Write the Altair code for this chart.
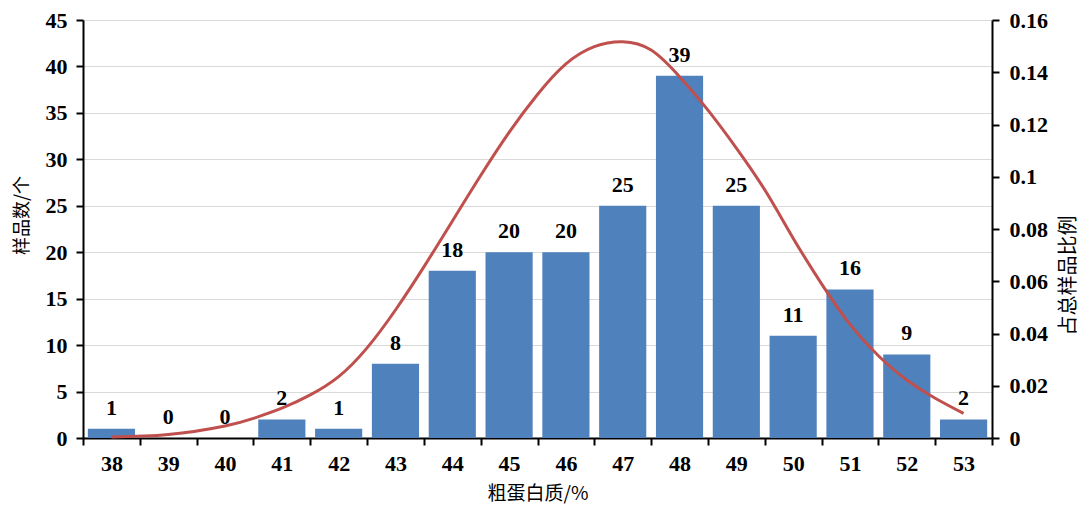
import altair as alt
import pandas as pd

categories = ["38", "39", "40", "41", "42", "43", "44", "45",
              "46", "47", "48", "49", "50", "51", "52", "53"]
counts = [1, 0, 0, 2, 1, 8, 18, 20, 20, 25, 39, 25, 11, 16, 9, 2]

curve_x = [38, 39, 40, 40.5, 41, 41.5, 42, 42.5, 43, 43.5, 44, 44.5, 45, 45.5,
           46, 46.5, 47, 47.5, 48, 48.5, 49, 49.5, 50, 50.5, 51, 51.5,
           52, 52.5, 53]
curve_p = [0.0004, 0.0013, 0.0046, 0.0075, 0.0114, 0.0165, 0.0235, 0.0345,
           0.0490, 0.0655, 0.0830, 0.1005, 0.117, 0.1315, 0.1432, 0.1498,
           0.1517, 0.1485, 0.1383, 0.1255, 0.111, 0.095, 0.0765,
           0.059, 0.0435, 0.0315, 0.0222, 0.0152, 0.0094]

left_ticks = [0, 5, 10, 15, 20, 25, 30, 35, 40, 45]
right_ticks = [0, 0.02, 0.04, 0.06, 0.08, 0.1, 0.12, 0.14, 0.16]

bars_df = pd.DataFrame({"cat": categories, "n": counts})
curve_df = pd.DataFrame({"x": curve_x, "p": curve_p})

SERIF = "Liberation Serif"
CJK = "Noto Sans CJK SC"

axis_common = dict(
    labelFont=SERIF, labelFontWeight="bold", labelFontSize=22, labelColor="black",
    domainColor="black", domainWidth=2, tickColor="black", tickWidth=2, tickSize=7,
    titleFont=CJK, titleFontWeight="normal", titleColor="black",
)

x_enc = alt.X(
    "cat:N", sort=categories,
    scale=alt.Scale(paddingInner=0, paddingOuter=0),
    axis=alt.Axis(title="粗蛋白质/%", labelAngle=0, tickBand="extent", grid=False,
                  labelPadding=8, titleFontSize=19, titleY=55, titleBaseline="middle",
                  **axis_common),
)
y_enc = alt.Y(
    "n:Q", scale=alt.Scale(domain=[0, 45], nice=False),
    axis=alt.Axis(title="样品数/个", values=left_ticks, grid=True, gridColor="#D9D9D9",
                  gridWidth=1, labelPadding=9, titleFontSize=18, titleAngle=270,
                  titleX=-61, titleY=195, titleAlign="center", titleBaseline="middle",
                  **axis_common),
)

bars = alt.Chart(bars_df).mark_bar(color="#4F81BD", width=alt.RelativeBandSize(0.83)).encode(
    x=x_enc, y=y_enc
)
labels = alt.Chart(bars_df).mark_text(
    font=SERIF, fontWeight="bold", fontSize=22, color="black",
    baseline="alphabetic", dy=-14,
).encode(x=x_enc, y=y_enc, text="n:Q")

line = alt.Chart(curve_df).mark_line(
    color="#C0504D", strokeWidth=3, interpolate="natural"
).encode(
    x=alt.X("x:Q", scale=alt.Scale(domain=[37.5, 53.5], nice=False, zero=False), axis=None),
    y=alt.Y("p:Q", scale=alt.Scale(domain=[0, 0.16], nice=False),
            axis=alt.Axis(orient="right", title="占总样品比例", values=right_ticks,
                          format="~g", grid=False, labelPadding=10, titleFontSize=20,
                          titleAngle=270, titleX=76, titleY=255, titleAlign="center",
                          titleBaseline="middle", **axis_common)),
)

chart = alt.layer(alt.layer(bars, labels), line).resolve_scale(
    x="independent", y="independent"
).properties(
    width=909, height=418,
    autosize=alt.AutoSizeParams(type="none"),
    padding={"left": 75, "top": 12, "right": 89, "bottom": 66},
    background="white",
).configure_view(stroke=None)

chart.save("out.html", embed_options={"renderer": "svg", "actions": False})
